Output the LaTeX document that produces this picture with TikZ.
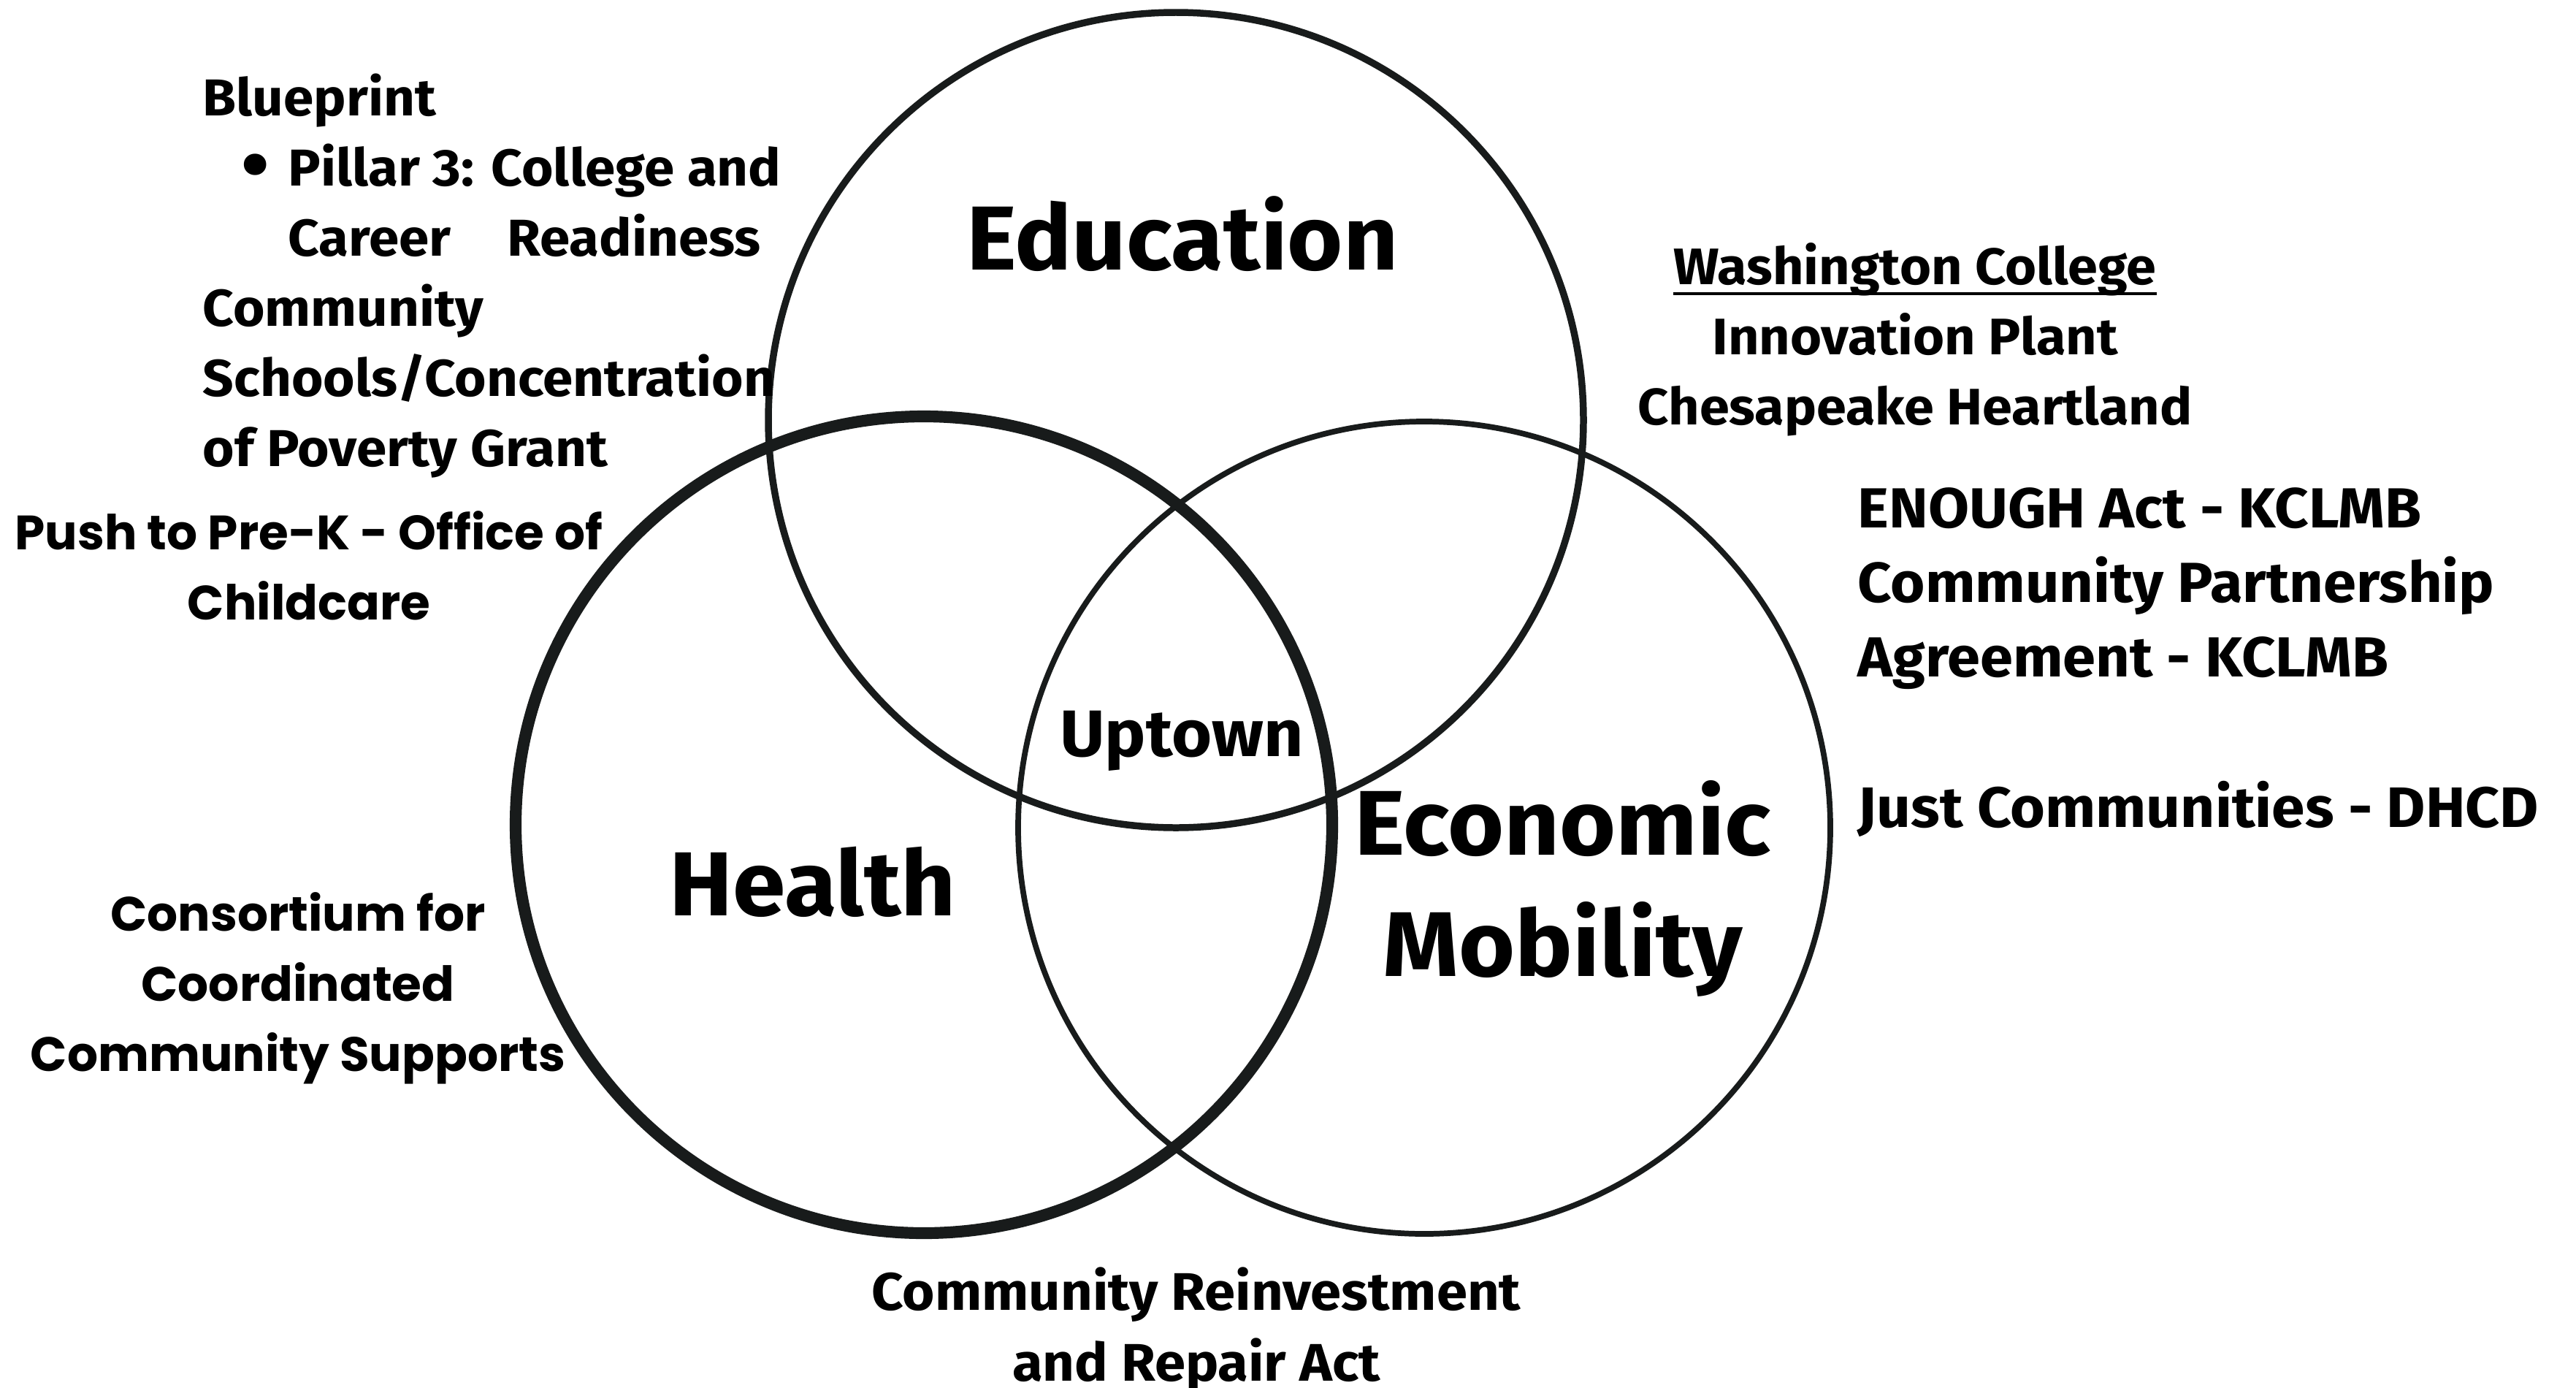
\documentclass[tikz,border=0pt]{standalone}
\usepackage{fontspec}
\setmainfont{Fira Sans}[FakeStretch=1.05]
\newfontfamily\widefont{Poppins}
\definecolor{ringgray}{RGB}{24,27,27}
\tikzset{
  ring/.style={draw=ringgray},
  lbl/.style={inner sep=0pt,text=black},
  bigtxt/.style={lbl,font=\fontsize{35.4}{47}\selectfont\bfseries},
  listtxt/.style={lbl,font=\fontsize{20.2}{27.3}\selectfont\bfseries},
  widetxt/.style={lbl,font=\fontsize{18.8}{27.3}\selectfont\widefont\bfseries}
}

\begin{document}
\begin{tikzpicture}
  \useasboundingbox[fill=white] (0,0) rectangle (35.27,-18.99);
  \draw[ring,line width=2.7pt] (16.10,-5.75) circle (5.58);
  \draw[ring,line width=4.6pt] (12.65,-11.29) circle (5.59);
  \draw[ring,line width=2.2pt] (19.50,-11.33) circle (5.56);

  \node[bigtxt,anchor=base] (edu) at (16.19,-3.69) {Education};
  \node[lbl,anchor=base,font=\fontsize{25.6}{30}\selectfont\bfseries] (uptown) at (16.18,-10.35) {Uptown};
  \node[bigtxt,anchor=base] (health) at (11.13,-12.53) {Health};
  \node[bigtxt,anchor=base,align=center,font=\fontsize{35.8}{47}\selectfont\bfseries] (econ) at (21.40,-13.36) {Economic\\Mobility};

  \node[listtxt,anchor=base west,align=left] (blueprint) at (2.77,-6.38)
    {Blueprint\\
     \hspace*{0.53cm}\makebox[0.64cm][l]{\raisebox{-0.1em}{\fontsize{30}{27.3}\selectfont\textbullet}}Pillar 3: College and\\
     \hspace*{1.17cm}\makebox[6.47cm][s]{Career Readiness}\\
     Community\\
     Schools/Concentration\\
     of Poverty Grant};
  \node[widetxt,anchor=base,align=center] (prek) at (4.23,-8.48)
    {Push to Pre-K - Office of\\Childcare};
  \node[widetxt,anchor=base,align=center] (consortium) at (4.08,-14.66)
    {Consortium for\\Coordinated\\Community Supports};

  \node[lbl,anchor=base,font=\fontsize{20}{27.3}\selectfont\bfseries] (wash) at (26.22,-3.89) {Washington College};
  \draw[line width=1.3pt] ([yshift=-0.13cm]wash.base west) -- ([yshift=-0.13cm]wash.base east);
  \node[lbl,anchor=base,align=center,font=\fontsize{20}{27.3}\selectfont\bfseries] (innov) at (26.22,-5.81)
    {Innovation Plant\\Chesapeake Heartland};
  \node[lbl,anchor=base west,align=left,font=\fontsize{22}{29}\selectfont\bfseries] (enough) at (25.43,-9.26)
    {ENOUGH Act - KCLMB\\Community Partnership\\Agreement - KCLMB};
  \node[lbl,anchor=base west,font=\fontsize{22.2}{29}\selectfont\bfseries] (just) at (25.43,-11.32)
    {Just Communities - DHCD};
  \node[lbl,anchor=base,align=center,font=\fontsize{20.6}{27.6}\selectfont\bfseries] (crra) at (16.38,-18.90)
    {Community Reinvestment\\and Repair Act};
\end{tikzpicture}
\end{document}
